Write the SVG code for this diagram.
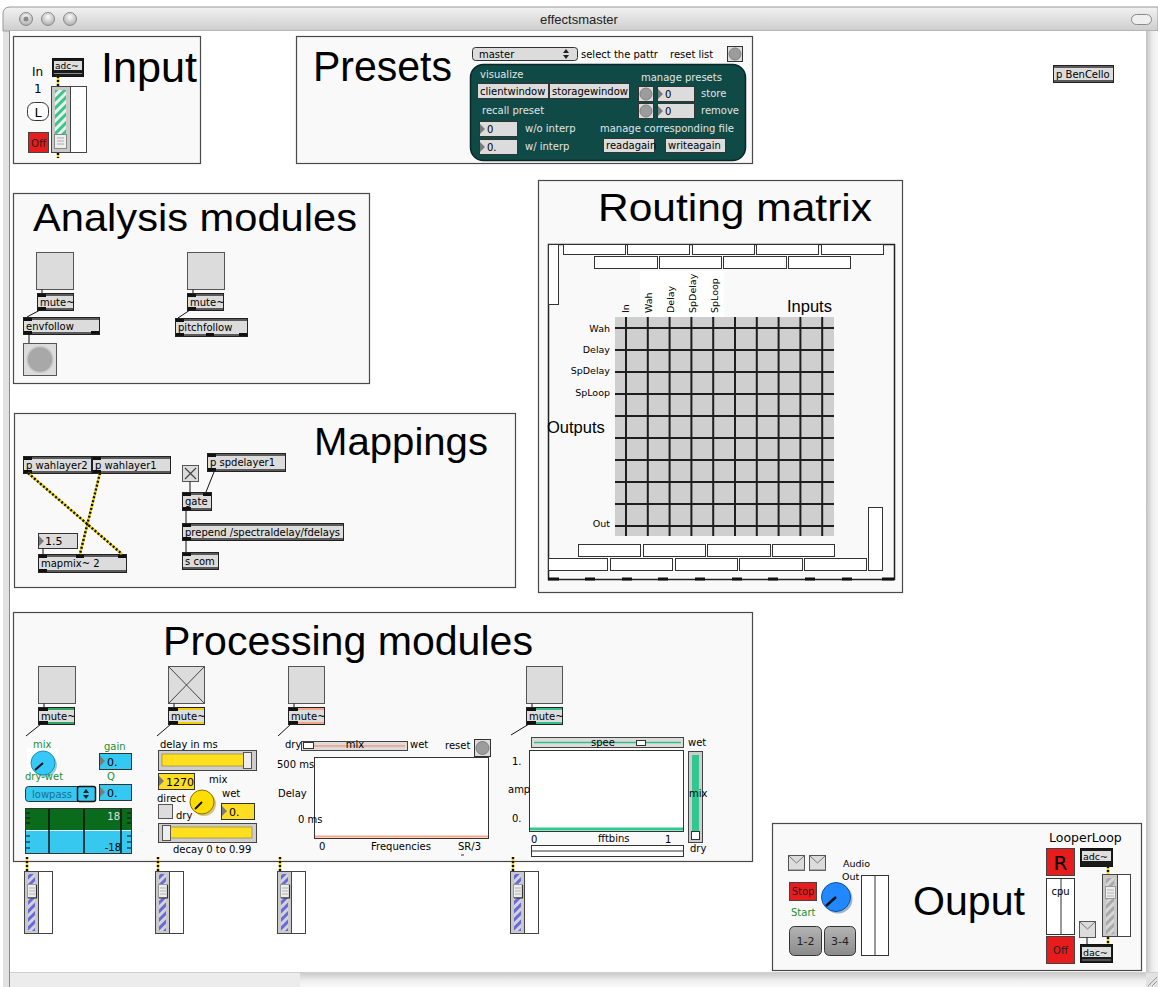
<svg xmlns="http://www.w3.org/2000/svg" width="1158" height="987" viewBox="0 0 1158 987">
<defs>
<style>
.pn{fill:#f9f9f9;stroke:#4a4a4a;stroke-width:1.2}
.ttl{font-family:"Liberation Sans",Arial,sans-serif;fill:#000}
.t{font-family:"DejaVu Sans",Verdana,sans-serif;font-size:10px;fill:#000}
.tw{fill:#e4e4e4}
.tg{fill:#1f8f30}
.ob{fill:#dcdcdc;stroke:#222}
.io{fill:#111}
.bar{fill:#5a5a5a}
.bx{fill:#dcdcdc;stroke:#333}
.tri{fill:#7a7a7a}
.wb{fill:#fff;stroke:#333}
.sq{fill:#dcdcdc;stroke:#555}
.c{stroke:#111;stroke-width:1;fill:none}
.sy{stroke:#f2d400;stroke-width:2.4;fill:none}
.sk{stroke:#111;stroke-width:2.4;stroke-dasharray:2 2;fill:none}
.gl{stroke:#1e1e1e;stroke-width:2;fill:none}
.bg{fill:#9c9c9c;stroke:#808080}
.red{fill:#e81c1c;stroke:#444}
</style>
<linearGradient id="tb" x1="0" y1="0" x2="0" y2="1"><stop offset="0" stop-color="#f2f2f2"/><stop offset="1" stop-color="#cdcdcd"/></linearGradient>
<linearGradient id="vs" x1="0" y1="0" x2="1" y2="0"><stop offset="0" stop-color="#c2c2c2"/><stop offset="0.5" stop-color="#ebebeb"/><stop offset="1" stop-color="#f8f8f8"/></linearGradient>
<linearGradient id="hs" x1="0" y1="0" x2="0" y2="1"><stop offset="0" stop-color="#c6c6c6"/><stop offset="0.6" stop-color="#f0f0f0"/><stop offset="1" stop-color="#f8f8f8"/></linearGradient>
<linearGradient id="gb" x1="0" y1="0" x2="0" y2="1"><stop offset="0" stop-color="#b4b4b4"/><stop offset="1" stop-color="#8a8a8a"/></linearGradient>
<radialGradient id="tl" cx="0.5" cy="0.35" r="0.6"><stop offset="0" stop-color="#fbfbfb"/><stop offset="1" stop-color="#b2b2b2"/></radialGradient>
<pattern id="stB" width="6" height="6" patternUnits="userSpaceOnUse" patternTransform="rotate(45)"><rect width="6" height="6" fill="#d2d2e2"/><rect width="3" height="6" fill="#6a6ad4"/></pattern>
<pattern id="stG" width="6" height="6" patternUnits="userSpaceOnUse" patternTransform="rotate(45)"><rect width="6" height="6" fill="#e6f4ec"/><rect width="3" height="6" fill="#3cc48a"/></pattern>
<pattern id="stK" width="6" height="6" patternUnits="userSpaceOnUse" patternTransform="rotate(45)"><rect width="6" height="6" fill="#d6d6d6"/><rect width="3" height="6" fill="#a9a9a9"/></pattern>
<!-- vertical gain slider with blue stripes, 29x63 -->
<symbol id="vsl" overflow="visible">
<rect x="0.5" y="0.5" width="14" height="62" fill="#c9c9c9" stroke="#444"/>
<rect x="14.5" y="0.5" width="14" height="62" fill="#fff" stroke="#444"/>
<rect x="4" y="3" width="7" height="57" fill="url(#stB)"/>
<rect x="3.5" y="13.5" width="9" height="13" fill="#ededed" stroke="#999"/>
<path d="M12.5 14v13H4" stroke="#333" stroke-width="1.2" fill="none"/>
<path d="M5 17h6M5 20h6M5 23h6" stroke="#b0b0b0"/>
</symbol>
</defs>

<!-- window chrome -->
<rect x="0" y="0" width="1158" height="987" fill="#fff"/>
<path d="M3 987V14Q3 7 10 7H1158V987Z" fill="#e2e2e2"/>
<path d="M3 31V14Q3 7 10 7H1158V31Z" fill="url(#tb)" stroke="#9a9a9a"/>
<rect x="10" y="31" width="1136" height="941" fill="#fff"/>
<line x1="9.5" y1="31" x2="9.5" y2="987" stroke="#8a8a8a"/>
<rect x="1146" y="31" width="12" height="941" fill="url(#vs)"/>
<rect x="10" y="972" width="290" height="15" fill="#ececec"/>
<rect x="300" y="972" width="846" height="15" fill="url(#hs)"/>
<line x1="10" y1="972.5" x2="1158" y2="972.5" stroke="#cfcfcf"/>
<path d="M1148 986l9-9M1152 986l5-5" stroke="#9a9a9a"/>
<circle cx="26" cy="19" r="6.5" fill="url(#tl)" stroke="#8a8a8a"/>
<circle cx="26" cy="19" r="2.5" fill="#8a8a8a"/>
<circle cx="48" cy="19" r="6.5" fill="url(#tl)" stroke="#8a8a8a"/>
<circle cx="70" cy="19" r="6.5" fill="url(#tl)" stroke="#8a8a8a"/>
<rect x="1131.5" y="14.5" width="20" height="10" rx="5" fill="#efefef" stroke="#8a8a8a"/>
<text x="579" y="24" text-anchor="middle" style="font-family:'Liberation Sans',Arial,sans-serif;font-size:13px;fill:#222">effectsmaster</text>

<!-- Input -->
<g id="input">
<rect class="pn" x="13.5" y="36.5" width="187" height="127"/>
<text class="ttl" x="101" y="82" font-size="43" textLength="96" lengthAdjust="spacingAndGlyphs">Input</text>
<text class="t" x="32" y="76" style="font-size:12px">In</text>
<text class="t" x="34" y="93" style="font-size:12px">1</text>
<rect x="52.5" y="58.5" width="31" height="18" fill="#1a1a1a" stroke="#111"/>
<rect x="54" y="61" width="28" height="9" fill="#dedede"/>
<line x1="54" y1="73.5" x2="82" y2="73.5" stroke="#8a8a8a"/>
<text class="t" x="55" y="69" style="font-size:9px">adc~</text>
<rect x="51.5" y="86.5" width="19" height="66" fill="#c9c9c9" stroke="#444"/>
<rect x="70.5" y="86.5" width="16" height="66" fill="#fff" stroke="#444"/>
<rect x="55" y="90" width="11" height="46" fill="url(#stG)"/>
<rect x="54.5" y="134.5" width="12" height="14" fill="#eee" stroke="#888"/>
<path d="M57 138h7M57 141h7M57 144h7" stroke="#aaa"/>
<rect x="27.5" y="102.5" width="21" height="18" rx="7" fill="#fff" stroke="#333"/>
<text class="t" x="38" y="117" text-anchor="middle" style="font-size:13px">L</text>
<rect class="red" x="28.5" y="132.5" width="20" height="20"/>
<text class="t" x="38.5" y="147" text-anchor="middle" style="fill:#222">Off</text>
</g>

<!-- Presets -->
<g id="presets">
<rect class="pn" x="296.5" y="36.5" width="456" height="127"/>
<text class="ttl" x="313" y="81" font-size="42" textLength="139" lengthAdjust="spacingAndGlyphs">Presets</text>
<rect x="472.5" y="47.5" width="105" height="13" rx="3" fill="#dcdcdc" stroke="#333"/>
<text class="t" x="479" y="58">master</text>
<path d="M563 53h6l-3-4zM563 55h6l-3 4z" fill="#222"/>
<text class="t" x="581" y="58">select the pattr</text>
<text class="t" x="670" y="58">reset list</text>
<rect class="bx" x="727.5" y="46.5" width="15" height="15"/>
<circle class="bg" cx="735" cy="54" r="6"/>
<rect x="470.5" y="64.5" width="275" height="96" rx="13" fill="#0f4a47" stroke="#072826" stroke-width="1.5"/>
<text class="t tw" x="480" y="78">visualize</text>
<text class="t tw" x="641" y="81">manage presets</text>
<rect class="bx" x="477.5" y="83.5" width="71" height="15"/>
<text class="t" x="480" y="95">clientwindow</text>
<rect class="bx" x="549.5" y="83.5" width="80" height="15"/>
<text class="t" x="552" y="95">storagewindow</text>
<rect class="bx" x="638.5" y="86.5" width="15" height="15"/>
<circle class="bg" cx="646" cy="94" r="6"/>
<rect class="bx" x="657.5" y="86.5" width="37" height="15"/>
<path class="tri" d="M658 89l5 5-5 5z"/>
<text class="t" x="665" y="98">0</text>
<text class="t tw" x="701" y="97">store</text>
<rect class="bx" x="638.5" y="103.5" width="15" height="15"/>
<circle class="bg" cx="646" cy="111" r="6"/>
<rect class="bx" x="657.5" y="103.5" width="37" height="15"/>
<path class="tri" d="M658 106l5 5-5 5z"/>
<text class="t" x="665" y="115">0</text>
<text class="t tw" x="701" y="114">remove</text>
<text class="t tw" x="482" y="114">recall preset</text>
<rect class="bx" x="479.5" y="121.5" width="38" height="15"/>
<path class="tri" d="M480 124l5 5-5 5z"/>
<text class="t" x="487" y="133">0</text>
<text class="t tw" x="525" y="132">w/o interp</text>
<rect class="bx" x="479.5" y="139.5" width="38" height="15"/>
<path class="tri" d="M480 142l5 5-5 5z"/>
<text class="t" x="487" y="151">0.</text>
<text class="t tw" x="525" y="150">w/ interp</text>
<text class="t tw" x="600" y="132">manage corresponding file</text>
<rect class="bx" x="603.5" y="138.5" width="51" height="14"/>
<text class="t" x="606" y="149">readagain</text>
<rect class="bx" x="665.5" y="138.5" width="60" height="14"/>
<text class="t" x="668" y="149">writeagain</text>
</g>

<!-- subpatcher -->
<g id="bencello">
<rect class="ob" x="1053.5" y="65.5" width="60" height="17"/>
<path class="bar" d="M1054 66h59v2h-59zM1054 80h59v2h-59z"/>
<text class="t" x="1056" y="78">p BenCello</text>
</g>

<!-- Analysis modules -->
<g id="analysis">
<rect class="pn" x="13.5" y="193.5" width="356" height="190"/>
<text class="ttl" x="33" y="231" font-size="39" textLength="324" lengthAdjust="spacingAndGlyphs">Analysis modules</text>
<rect class="sq" x="36.5" y="252.5" width="37" height="37"/>
<rect class="ob" x="37.5" y="293.5" width="36" height="17"/>
<path class="bar" d="M38 294h35v2H38zM38 308h35v2H38z"/>
<path class="io" d="M38 294h8v3h-8zM38 307h8v3h-8z"/>
<text class="t" x="40" y="306">mute~</text>
<rect class="ob" x="23.5" y="317.5" width="76" height="17"/>
<path class="bar" d="M24 318h75v2H24zM24 332h75v2H24z"/>
<path class="io" d="M24 318h8v3h-8zM24 331h8v3h-8zM91 331h8v3h-8z"/>
<text class="t" x="26" y="330">envfollow</text>
<rect class="sq" x="23.5" y="343.5" width="33" height="32"/>
<circle cx="40" cy="359.5" r="13" fill="#a8a8a8" stroke="#cacaca" stroke-width="1.5"/>
<rect class="sq" x="187.5" y="252.5" width="37" height="37"/>
<rect class="ob" x="187.5" y="293.5" width="36" height="17"/>
<path class="bar" d="M188 294h35v2h-35zM188 308h35v2h-35z"/>
<path class="io" d="M188 294h8v3h-8zM188 307h8v3h-8z"/>
<text class="t" x="190" y="306">mute~</text>
<rect class="ob" x="175.5" y="318.5" width="72" height="18"/>
<path class="bar" d="M176 319h71v2h-71zM176 334h71v2h-71z"/>
<path class="io" d="M176 319h8v3h-8zM176 333h8v3h-8zM206 333h8v3h-8zM239 333h8v3h-8z"/>
<text class="t" x="178" y="331">pitchfollow</text>
</g>

<!-- Mappings -->
<g id="mappings">
<rect class="pn" x="14.5" y="413.5" width="501" height="174"/>
<text class="ttl" x="314" y="455" font-size="38" textLength="174" lengthAdjust="spacingAndGlyphs">Mappings</text>
<rect class="ob" x="23.5" y="456.5" width="68" height="17"/>
<path class="bar" d="M24 457h67v2H24zM24 471h67v2H24z"/>
<path class="io" d="M24 457h8v3h-8zM24 470h8v3h-8z"/>
<text class="t" x="26" y="469">p wahlayer2</text>
<rect class="ob" x="92.5" y="456.5" width="78" height="17"/>
<path class="bar" d="M93 457h77v2H93zM93 471h77v2H93z"/>
<path class="io" d="M93 457h8v3h-8zM93 470h8v3h-8z"/>
<text class="t" x="95" y="469">p wahlayer1</text>
<rect class="sq" x="182.5" y="465.5" width="16" height="16"/>
<path d="M185 468l11 11M196 468l-11 11" stroke="#444" stroke-width="1.2"/>
<rect class="ob" x="207.5" y="453.5" width="78" height="18"/>
<path class="bar" d="M208 454h77v2h-77zM208 469h77v2h-77z"/>
<path class="io" d="M208 454h8v3h-8zM208 468h8v3h-8z"/>
<text class="t" x="210" y="466">p spdelayer1</text>
<rect class="ob" x="182.5" y="492.5" width="29" height="18"/>
<path class="bar" d="M183 493h28v2h-28zM183 508h28v2h-28z"/>
<path class="io" d="M183 493h8v3h-8zM203 493h8v3h-8zM183 507h8v3h-8z"/>
<text class="t" x="185" y="505">gate</text>
<rect class="ob" x="182.5" y="523.5" width="161" height="17"/>
<path class="bar" d="M183 524h160v2H183zM183 538h160v2H183z"/>
<path class="io" d="M183 524h8v3h-8zM183 537h8v3h-8z"/>
<text class="t" x="185" y="536">prepend /spectraldelay/fdelays</text>
<rect class="ob" x="182.5" y="552.5" width="36" height="17"/>
<path class="bar" d="M183 553h35v2h-35zM183 567h35v2h-35z"/>
<path class="io" d="M183 553h8v3h-8z"/>
<text class="t" x="185" y="565">s com</text>
<rect class="bx" x="38.5" y="533.5" width="39" height="15"/>
<path class="tri" d="M39 536l5 5-5 5z"/>
<text class="t" x="45" y="545" style="font-size:11px">1.5</text>
<rect class="ob" x="38.5" y="554.5" width="88" height="18"/>
<path class="bar" d="M39 555h87v2H39zM39 570h87v2H39z"/>
<path class="io" d="M39 555h8v3h-8zM76 555h8v3h-8zM118 555h8v3h-8zM39 569h8v3h-8z"/>
<text class="t" x="41" y="567">mapmix~ 2</text>
</g>

<!-- Routing matrix -->
<g id="routing">
<rect class="pn" x="538.5" y="180.5" width="364" height="412"/>
<text class="ttl" x="598" y="221" font-size="39" textLength="274" lengthAdjust="spacingAndGlyphs">Routing matrix</text>
<rect x="548.5" y="244.5" width="346" height="335" fill="none" stroke="#222" stroke-width="1.5"/>
<path d="M548 579h11M585 579h10M622 579h10M658 579h10M695 579h10M732 579h10M768 579h10M805 579h10M842 579h10M882 579h12" stroke="#111" stroke-width="3"/>
<g class="wb">
<rect class="wb" x="563.5" y="244.5" width="62" height="10"/>
<rect class="wb" x="627.5" y="244.5" width="62" height="10"/>
<rect class="wb" x="692.5" y="244.5" width="62" height="10"/>
<rect class="wb" x="756.5" y="244.5" width="62" height="10"/>
<rect class="wb" x="821.5" y="244.5" width="62" height="10"/>
<rect class="wb" x="594.5" y="256.5" width="63" height="12"/>
<rect class="wb" x="659.5" y="256.5" width="62" height="12"/>
<rect class="wb" x="723.5" y="256.5" width="63" height="12"/>
<rect class="wb" x="788.5" y="256.5" width="62" height="12"/>
<rect class="wb" x="548.5" y="244.5" width="10" height="60"/>
<rect class="wb" x="578.5" y="544.5" width="62" height="12"/>
<rect class="wb" x="643.5" y="544.5" width="62" height="12"/>
<rect class="wb" x="707.5" y="544.5" width="63" height="12"/>
<rect class="wb" x="772.5" y="544.5" width="62" height="12"/>
<rect class="wb" x="548.5" y="558.5" width="59" height="12"/>
<rect class="wb" x="610.5" y="558.5" width="62" height="12"/>
<rect class="wb" x="675.5" y="558.5" width="62" height="12"/>
<rect class="wb" x="739.5" y="558.5" width="63" height="12"/>
<rect class="wb" x="804.5" y="558.5" width="62" height="12"/>
<rect class="wb" x="868.5" y="507.5" width="14" height="63"/>
</g>
<rect x="640" y="271" width="84" height="46" fill="#fff"/>
<text class="t" transform="translate(629 313) rotate(-90)" style="font-size:9.5px">In</text>
<text class="t" transform="translate(652 313) rotate(-90)" style="font-size:9.5px">Wah</text>
<text class="t" transform="translate(674 313) rotate(-90)" style="font-size:9.5px">Delay</text>
<text class="t" transform="translate(696 313) rotate(-90)" style="font-size:9.5px">SpDelay</text>
<text class="t" transform="translate(718 313) rotate(-90)" style="font-size:9.5px">SpLoop</text>
<text class="ttl" x="787" y="312" style="font-size:16.5px">Inputs</text>
<text class="ttl" x="547" y="433" style="font-size:16.5px">Outputs</text>
<rect x="615" y="317" width="219" height="219" fill="#cfcfcf"/>
<path class="gl" d="M626 317v219M647.8 317v219M669.6 317v219M691.4 317v219M713.2 317v219M735 317v219M756.8 317v219M778.6 317v219M800.4 317v219M822.2 317v219M615 328h219M615 350h219M615 372h219M615 394h219M615 416h219M615 438h219M615 460h219M615 482h219M615 504h219M615 526h219"/>
<text class="t" x="610" y="332" text-anchor="end" style="font-size:9.5px">Wah</text>
<text class="t" x="610" y="353" text-anchor="end" style="font-size:9.5px">Delay</text>
<text class="t" x="610" y="374" text-anchor="end" style="font-size:9.5px">SpDelay</text>
<text class="t" x="610" y="396" text-anchor="end" style="font-size:9.5px">SpLoop</text>
<text class="t" x="610" y="527" text-anchor="end" style="font-size:9.5px">Out</text>
</g>

<!-- Processing modules -->
<g id="processing">
<rect class="pn" x="13.5" y="612.5" width="739" height="249"/>
<text class="ttl" x="163" y="655" font-size="40" textLength="370" lengthAdjust="spacingAndGlyphs">Processing modules</text>
</g>

<!-- wah module -->
<g id="wah">
<rect class="sq" x="38.5" y="666.5" width="37" height="37"/>
<rect class="ob" x="38.5" y="707.5" width="36" height="17"/>
<path d="M39 708h35v2H39zM39 722h35v2H39z" fill="#2fa860"/>
<path class="io" d="M39 708h9v3h-9zM39 721h9v3h-9z"/>
<text class="t" x="41" y="720">mute~</text>
<text class="t tg" x="33" y="748">mix</text>
<rect x="27" y="748" width="31" height="25" fill="#fff"/>
<circle cx="45" cy="765" r="12" fill="#2a9dbd" opacity="0.5"/>
<circle cx="43" cy="763" r="12" fill="#35c8f8" stroke="#1b8fb8"/>
<path d="M43 763l-8 7" stroke="#111" stroke-width="2"/>
<text class="t tg" x="25" y="780">dry-wet</text>
<text class="t tg" x="104" y="750">gain</text>
<rect x="99.5" y="753.5" width="32" height="16" fill="#35c8f0" stroke="#333"/>
<path class="tri" d="M100 756l5 5-5 5z"/>
<text class="t" x="107" y="766" style="font-size:11px">0.</text>
<text class="t tg" x="107" y="780">Q</text>
<rect x="99.5" y="784.5" width="32" height="16" fill="#35c8f0" stroke="#333"/>
<path class="tri" d="M100 787l5 5-5 5z"/>
<text class="t" x="107" y="797" style="font-size:11px">0.</text>
<rect x="25.5" y="786.5" width="70" height="15" rx="3" fill="#35c8f0" stroke="#333"/>
<rect x="77.5" y="786.5" width="18" height="15" rx="2" fill="#35c8f0" stroke="#111" stroke-width="1.5"/>
<path d="M83 793h6l-3-4zM83 795h6l-3 4z" fill="#222"/>
<text class="t" x="32" y="798" style="fill:#1d6f8f">lowpass</text>
<rect x="25.5" y="808.5" width="106" height="22" fill="#0b6b1c"/>
<rect x="25.5" y="830.5" width="106" height="23" fill="#36c8ee"/>
<line x1="26" y1="830.5" x2="131" y2="830.5" stroke="#e8fbff"/>
<rect x="25.5" y="808.5" width="106" height="45" fill="none" stroke="#333"/>
<path d="M49 809v44M84 809v44M121 809v44" stroke="#111" stroke-width="1.5"/>
<path d="M26 813h4M26 818h4M26 823h4M26 836h4M26 842h4M26 848h4M127 813h4M127 818h4M127 823h4M127 836h4M127 842h4M127 848h4" stroke="#111"/>
<text class="t" x="120" y="820" text-anchor="end" style="fill:#e0e0e0">18</text>
<text class="t" x="121" y="851" text-anchor="end">-18</text>
</g>

<!-- delay module -->
<g id="delay">
<rect class="sq" x="168.5" y="666.5" width="36" height="37"/>
<path d="M169 667l35 36M204 667l-35 36" stroke="#444"/>
<rect class="ob" x="168.5" y="707.5" width="36" height="17"/>
<path d="M169 708h35v2h-35zM169 722h35v2h-35z" fill="#f0d000"/>
<path class="io" d="M169 708h9v3h-9zM169 721h9v3h-9z"/>
<text class="t" x="171" y="720">mute~</text>
<text class="t" x="160" y="748">delay in ms</text>
<rect x="158.5" y="750.5" width="98" height="20" fill="#cdcdcd" stroke="#444"/>
<rect x="162" y="754" width="82" height="12" fill="#ffdf20" stroke="#8a7a20" stroke-width="0.6"/>
<rect x="243.5" y="752.5" width="8" height="16" fill="#eee" stroke="#555"/>
<rect x="158.5" y="773.5" width="36" height="16" fill="#ffdd22" stroke="#333"/>
<path class="tri" d="M159 776l5 5-5 5z"/>
<text class="t" x="166" y="786" style="font-size:11px">1270</text>
<text class="t" x="209" y="783">mix</text>
<circle cx="204" cy="804" r="12" fill="#b09000" opacity="0.5"/>
<circle cx="202" cy="802" r="12" fill="#ffdd00" stroke="#8a7000"/>
<path d="M202 802l-7 7" stroke="#111" stroke-width="2"/>
<text class="t" x="157" y="802">direct</text>
<text class="t" x="222" y="797">wet</text>
<rect class="sq" x="158.5" y="804.5" width="14" height="14"/>
<text class="t" x="176" y="819">dry</text>
<rect x="221.5" y="803.5" width="33" height="16" fill="#ffdd22" stroke="#333"/>
<path class="tri" d="M222 806l5 5-5 5z"/>
<text class="t" x="229" y="816" style="font-size:11px">0.</text>
<rect x="158.5" y="823.5" width="98" height="19" fill="#cdcdcd" stroke="#444"/>
<rect x="163" y="827" width="89" height="11" fill="#ffdf20" stroke="#8a7a20" stroke-width="0.6"/>
<rect x="162.5" y="825.5" width="8" height="15" fill="#eee" stroke="#555"/>
<text class="t" x="173" y="853">decay 0 to 0.99</text>
</g>

<!-- spectral delay module -->
<g id="spdelay">
<rect class="sq" x="288.5" y="666.5" width="36" height="37"/>
<rect class="ob" x="288.5" y="707.5" width="36" height="17"/>
<path d="M289 708h35v2h-35zM289 722h35v2h-35z" fill="#f2a484"/>
<path class="io" d="M289 708h9v3h-9zM289 721h9v3h-9z"/>
<text class="t" x="291" y="720">mute~</text>
<text class="t" x="285" y="748">dry</text>
<rect x="301.5" y="741.5" width="106" height="9" fill="#dcdcdc" stroke="#444"/>
<line x1="304" y1="746" x2="405" y2="746" stroke="#f0a080" stroke-width="1.5"/>
<text class="t" x="355" y="748" text-anchor="middle">mix</text>
<rect x="303.5" y="742.5" width="10" height="6" fill="#fff" stroke="#333"/>
<text class="t" x="410" y="748">wet</text>
<text class="t" x="445" y="749">reset</text>
<rect class="bx" x="474.5" y="739.5" width="16" height="17"/>
<circle class="bg" cx="482.5" cy="748" r="6.5"/>
<text class="t" x="277" y="768">500 ms</text>
<rect class="wb" x="314.5" y="757.5" width="174" height="81"/>
<line x1="315" y1="836.5" x2="488" y2="836.5" stroke="#f4a888" stroke-width="2"/>
<text class="t" x="278" y="797">Delay</text>
<text class="t" x="298" y="823">0 ms</text>
<text class="t" x="319" y="850">0</text>
<text class="t" x="371" y="850">Frequencies</text>
<text class="t" x="458" y="850">SR/3</text>
<path d="M461 855h3" stroke="#333"/>
</g>

<!-- spectral loop module -->
<g id="sploop">
<rect class="sq" x="526.5" y="666.5" width="36" height="37"/>
<rect class="ob" x="526.5" y="707.5" width="36" height="17"/>
<path d="M527 708h35v2h-35zM527 722h35v2h-35z" fill="#30c088"/>
<path class="io" d="M527 708h9v3h-9zM527 721h9v3h-9z"/>
<text class="t" x="529" y="720">mute~</text>
<rect x="531.5" y="737.5" width="152" height="10" fill="#dcdcdc" stroke="#444"/>
<line x1="534" y1="742.5" x2="681" y2="742.5" stroke="#30c088" stroke-width="1.5"/>
<text class="t" x="603" y="746" text-anchor="middle">spee</text>
<rect x="636.5" y="740.5" width="9" height="5" fill="#fff" stroke="#333"/>
<text class="t" x="595" y="760">d</text>
<text class="t" x="688" y="746">wet</text>
<rect class="wb" x="529.5" y="750.5" width="154" height="81"/>
<line x1="530" y1="829" x2="683" y2="829" stroke="#30c890" stroke-width="3"/>
<text class="t" x="512" y="765">1.</text>
<text class="t" x="508" y="793">amp</text>
<text class="t" x="512" y="822">0.</text>
<rect x="688.5" y="751.5" width="14" height="91" fill="#cdcdcd" stroke="#444"/>
<rect x="692" y="755" width="7" height="78" fill="#30c890"/>
<rect x="691.5" y="831.5" width="8" height="8" fill="#fff" stroke="#333"/>
<text class="t" x="689" y="797">mix</text>
<text class="t" x="690" y="852">dry</text>
<text class="t" x="531" y="843">0</text>
<text class="t" x="598" y="842">fftbins</text>
<text class="t" x="665" y="843">1</text>
<rect class="wb" x="531.5" y="845.5" width="152" height="11"/>
<line x1="532" y1="851" x2="683" y2="851" stroke="#333"/>
</g>

<!-- output level sliders -->
<g id="sliders">
<use href="#vsl" x="24" y="871"/>
<use href="#vsl" x="155" y="871"/>
<use href="#vsl" x="277" y="871"/>
<use href="#vsl" x="510" y="871"/>
</g>

<!-- Output -->
<g id="output">
<rect class="pn" x="772.5" y="823.5" width="369" height="147"/>
<text class="ttl" x="913" y="915" font-size="41" textLength="112" lengthAdjust="spacingAndGlyphs">Ouput</text>
<rect class="sq" x="788.5" y="855.5" width="16" height="15"/>
<path d="M789 856l7.5 7 7.5-7M789 870h16" stroke="#777" fill="none"/>
<rect class="sq" x="809.5" y="855.5" width="16" height="15"/>
<path d="M810 856l7.5 7 7.5-7M810 870h16" stroke="#777" fill="none"/>
<text class="t" x="843" y="867" style="font-size:9.5px">Audio</text>
<text class="t" x="842" y="880" style="font-size:9.5px">Out</text>
<rect class="red" x="789.5" y="882.5" width="27" height="18"/>
<text class="t" x="803" y="895" text-anchor="middle" style="fill:#222">Stop</text>
<text class="t tg" x="791" y="916">Start</text>
<circle cx="838" cy="899" r="14.5" fill="#1a4a8a" opacity="0.4"/>
<circle cx="836" cy="897" r="14.5" fill="#2288ff" stroke="#1050a0"/>
<path d="M836 897l-10 9" stroke="#111" stroke-width="2.5"/>
<rect x="789.5" y="926.5" width="32" height="29" rx="5" fill="url(#gb)" stroke="#333"/>
<text class="t" x="805.5" y="945" text-anchor="middle" style="font-size:11px;fill:#222">1-2</text>
<rect x="824.5" y="926.5" width="31" height="29" rx="5" fill="url(#gb)" stroke="#333"/>
<text class="t" x="840" y="945" text-anchor="middle" style="font-size:11px;fill:#222">3-4</text>
<rect class="wb" x="861.5" y="875.5" width="27" height="80"/>
<line x1="875" y1="876" x2="875" y2="955" stroke="#333"/>
<text class="t" x="1049" y="842" style="font-size:12.5px">LooperLoop</text>
<rect class="red" x="1046.5" y="848.5" width="28" height="27"/>
<text class="t" x="1060.5" y="870" text-anchor="middle" style="font-size:20px">R</text>
<rect class="wb" x="1046.5" y="878.5" width="28" height="56"/>
<line x1="1061" y1="879" x2="1061" y2="934" stroke="#333"/>
<text class="t" x="1060.5" y="895" text-anchor="middle">cpu</text>
<rect class="red" x="1046.5" y="936.5" width="28" height="27"/>
<text class="t" x="1060.5" y="954" text-anchor="middle" style="fill:#222">Off</text>
<rect x="1080.5" y="848.5" width="32" height="18" fill="#1a1a1a" stroke="#111"/>
<rect x="1082" y="851" width="29" height="10" fill="#dedede"/>
<text class="t" x="1083" y="860" style="font-size:9.5px">adc~</text>
<rect x="1102.5" y="874.5" width="15" height="62" fill="#c9c9c9" stroke="#444"/>
<rect x="1117.5" y="874.5" width="13" height="62" fill="#fff" stroke="#444"/>
<rect x="1106" y="878" width="8" height="56" fill="url(#stK)"/>
<rect x="1105.5" y="886.5" width="10" height="12" fill="#ededed" stroke="#999"/>
<path d="M1107 890h7M1107 893h7M1107 896h7" stroke="#b0b0b0"/>
<rect class="sq" x="1079.5" y="921.5" width="16" height="16"/>
<path d="M1080 922l7.5 7 7.5-7" stroke="#777" fill="none"/>
<rect x="1080.5" y="944.5" width="32" height="18" fill="#1a1a1a" stroke="#111"/>
<rect x="1082" y="947" width="29" height="10" fill="#dedede"/>
<line x1="1082" y1="960" x2="1111" y2="960" stroke="#8a8a8a"/>
<text class="t" x="1083" y="956" style="font-size:9.5px">dac~</text>
</g>

<!-- patch cords -->
<g id="connectors">
<path class="sy" d="M58 76V86M58 153V158"/>
<path class="sk" d="M58 76V86M58 153V158"/>
<path class="c" d="M42 289.5V293M40 310L27 317M29 334V343M193 289.5V293M190 310L178 318"/>
<path class="sy" d="M28 473L122 554M100 473L80 554"/>
<path class="sk" d="M28 473L122 554M100 473L80 554"/>
<path class="c" d="M190 481.5V492M214 472L206 492M186 510V523M186 540V552M43 548.5V554"/>
<path class="c" d="M44 703.5V707M174 703.5V707M294 703.5V707M532 703.5V707"/>
<path class="c" d="M41 724L26 736M171 724L157 736M291 724L278 736M529 724L511 735"/>
<path class="sy" d="M27 857V871M158 857V871M280 857V871M513 857V871M1108 866V874M1108 937V944"/>
<path class="sk" d="M27 857V871M158 857V871M280 857V871M513 857V871M1108 866V874M1108 937V944"/>
<path class="c" d="M1087 937.5V944"/>
</g>
</svg>
